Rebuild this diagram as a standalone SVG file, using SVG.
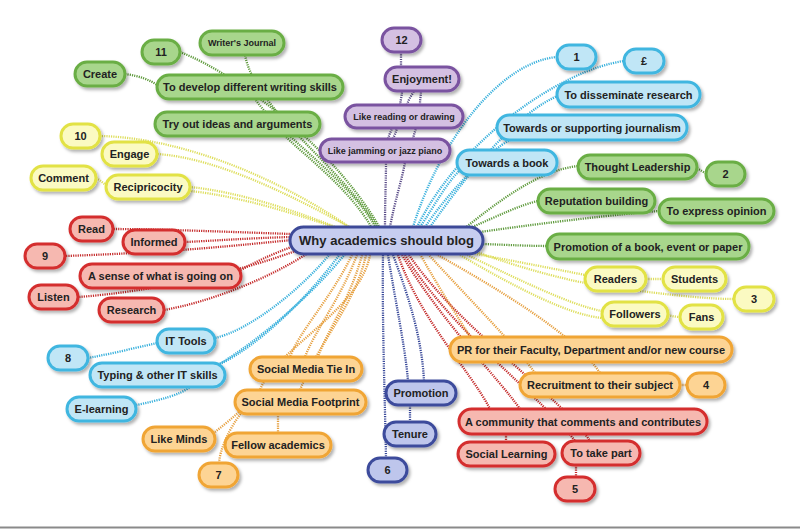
<svg xmlns="http://www.w3.org/2000/svg" width="800" height="529" viewBox="0 0 800 529">
<defs>
<filter id="sh" x="-20%" y="-40%" width="140%" height="190%">
<feDropShadow dx="2" dy="2.5" stdDeviation="1.5" flood-color="#000" flood-opacity="0.3"/>
</filter>
<style>
.node rect{stroke-width:3;filter:url(#sh)}
.node text{font-family:"Liberation Sans",Arial,sans-serif;font-weight:bold;font-size:11px;fill:#222;text-anchor:middle;dominant-baseline:central}
.node.sm text{font-size:9px}
.hub rect{fill:#c6cdf0;stroke:#3c4a98}
.hub text{font-size:13px}
.green rect{fill:#a8d68c;stroke:#6aae45}
.yellow rect{fill:#fbfac2;stroke:#e2e244}
.red rect{fill:#f6b8b0;stroke:#d42e2e}
.cyan rect{fill:#c0e6f6;stroke:#40b6e0}
.orange rect{fill:#fdd494;stroke:#f0a535}
.navy rect{fill:#bec6ec;stroke:#3c4c9c}
.purple rect{fill:#d4c0e2;stroke:#7a52a0}
#connectors path{fill:none;stroke-width:2.3;stroke-dasharray:1.2 1.1}
.cg{stroke:#5e9a3c}.cy{stroke:#dede5c}.cr{stroke:#c42a2a}.cc{stroke:#38b0dc}.co{stroke:#e6a040}.cn{stroke:#3a4a9a}.cp{stroke:#5a4c88}
</style>
</defs>
<rect width="800" height="529" fill="#fff"/>
<line x1="0" y1="527.5" x2="800" y2="527.5" stroke="#8a8a8a" stroke-width="2"/>
<g id="connectors">
<!-- green top-left -->
<path class="cg" d="M372,228 C350,190 310,160 285,136"/>
<path class="cg" d="M376,228 C350,180 280,135 255,99"/>
<path class="cg" d="M378,228 C345,170 255,110 245,55"/>
<path class="cg" d="M380,228 C335,150 240,75 180,52"/>
<path class="cg" d="M125,74 C140,76 150,80 157,85"/>
<!-- yellow left -->
<path class="cy" d="M352,229 C290,185 190,138 100,136"/>
<path class="cy" d="M355,230 C300,200 220,158 157,154"/>
<path class="cy" d="M345,231 C300,212 240,192 190,187"/>
<path class="cy" d="M348,232 C300,215 240,196 190,191"/>
<path class="cy" d="M96,178 C100,180 103,183 106,185"/>
<!-- red left -->
<path class="cr" d="M292,234 C230,232 160,229 113,229"/>
<path class="cr" d="M292,237 C250,238 210,241 185,242"/>
<path class="cr" d="M292,240 C240,245 180,252 65,256"/>
<path class="cr" d="M294,246 C270,255 255,262 241,270"/>
<path class="cr" d="M298,250 C240,272 150,292 78,297"/>
<path class="cr" d="M308,253 C270,278 210,302 164,310"/>
<!-- blue left -->
<path class="cc" d="M330,254 C300,290 250,330 215,338"/>
<path class="cc" d="M88,358 C110,354 135,348 157,343"/>
<path class="cc" d="M340,254 C310,295 260,345 220,364"/>
<path class="cc" d="M345,254 C300,310 230,360 215,366"/>
<path class="cc" d="M136,405 C160,400 180,395 190,387"/>
<!-- orange left -->
<path class="co" d="M352,255 C330,300 300,330 290,357"/>
<path class="co" d="M357,255 C340,300 315,330 305,357"/>
<path class="co" d="M362,255 C350,300 325,335 318,357"/>
<path class="co" d="M366,255 C355,305 320,340 300,390"/>
<path class="co" d="M370,255 C360,310 275,350 260,390"/>
<path class="co" d="M255,390 C250,405 230,420 215,432"/>
<path class="co" d="M278,414 C278,420 278,428 278,433"/>
<path class="co" d="M242,412 C228,430 220,450 219,463"/>
<!-- navy -->
<path class="cn" d="M383,255 C382,320 385,400 386,458"/>
<path class="cn" d="M388,255 C395,300 405,345 408,381"/>
<path class="cn" d="M393,255 C410,300 422,340 424,381"/>
<path class="cn" d="M410,405 C410,412 410,417 410,422"/>
<!-- red right -->
<path class="cr" d="M398,255 C420,320 470,370 490,409"/>
<path class="cr" d="M402,255 C440,320 500,380 520,409"/>
<path class="cr" d="M405,255 C450,330 545,400 575,441"/>
<path class="cr" d="M409,255 C460,330 560,395 590,441"/>
<path class="cr" d="M506,434 C506,437 506,440 506,442"/>
<path class="cr" d="M576,465 C576,469 576,473 576,477"/>
<!-- orange right -->
<path class="co" d="M420,254 C440,290 460,320 470,337"/>
<path class="co" d="M428,254 C470,300 515,345 535,373"/>
<path class="co" d="M436,254 C500,290 575,335 600,373"/>
<path class="co" d="M680,385 C683,385 685,385 687,385"/>
<!-- yellow right -->
<path class="cy" d="M470,253 C520,262 560,270 585,275"/>
<path class="cy" d="M474,251 C520,268 560,278 585,283"/>
<path class="cy" d="M465,254 C520,280 570,305 602,311"/>
<path class="cy" d="M460,255 C520,290 570,315 602,318"/>
<path class="cy" d="M646,279 C652,279 657,279 663,279"/>
<path class="cy" d="M640,291 C680,296 710,299 734,299"/>
<path class="cy" d="M668,315 C672,316 676,317 680,317"/>
<!-- green right -->
<path class="cg" d="M483,244 C510,245 530,246 547,246"/>
<path class="cg" d="M470,228 C500,215 520,205 538,201"/>
<path class="cg" d="M465,228 C500,200 540,170 578,166"/>
<path class="cg" d="M480,232 C550,222 620,214 659,211"/>
<path class="cg" d="M697,168 C700,170 703,172 706,173"/>
<!-- cyan right -->
<path class="cc" d="M420,227 C435,205 445,185 460,170"/>
<path class="cc" d="M425,227 C450,190 490,150 510,140"/>
<path class="cc" d="M430,227 C470,170 520,110 560,95"/>
<path class="cc" d="M413,227 C440,140 500,62 557,57"/>
<path class="cc" d="M417,227 C460,140 560,70 624,61"/>
<!-- purple -->
<path class="cp" d="M385,227 C385,200 386,180 386,162"/>
<path class="cp" d="M390,227 C395,200 402,180 405,162"/>
<path class="cp" d="M388,139 C390,132 391,132 392,128"/>
<path class="cp" d="M393,139 C395,134 396,132 397,128"/>
<path class="cp" d="M413,139 C414,134 415,132 416,128"/>
<path class="cp" d="M400,105 C401,98 402,95 402,91"/>
<path class="cp" d="M407,105 C409,98 412,95 414,91"/>
<path class="cp" d="M420,105 C420,98 421,95 421,91"/>
<path class="cp" d="M401,67 C401,62 401,57 401,52"/>
</g>

<g id="hub" class="node hub"><rect x="290" y="227" width="193" height="27" rx="13.5"/><text x="386.5" y="240.5">Why academics should blog</text></g>

<g id="n-11" class="node green"><rect x="142" y="40" width="38" height="24" rx="12"/><text x="161" y="52">11</text></g>
<g id="n-writers-journal" class="node green sm"><rect x="200" y="31" width="84" height="24" rx="12"/><text x="242" y="43">Writer's Journal</text></g>
<g id="n-create" class="node green"><rect x="75" y="62" width="50" height="24" rx="12"/><text x="100" y="74">Create</text></g>
<g id="n-develop" class="node green"><rect x="157" y="75" width="186" height="24" rx="12"/><text x="250" y="87">To develop different writing skills</text></g>
<g id="n-tryout" class="node green"><rect x="155" y="112" width="165" height="24" rx="12"/><text x="237.5" y="124">Try out ideas and arguments</text></g>

<g id="n-10" class="node yellow"><rect x="61" y="124" width="39" height="24" rx="12"/><text x="80.5" y="136">10</text></g>
<g id="n-engage" class="node yellow"><rect x="102" y="142" width="55" height="24" rx="12"/><text x="129.5" y="154">Engage</text></g>
<g id="n-comment" class="node yellow"><rect x="31" y="166" width="65" height="24" rx="12"/><text x="63.5" y="178">Comment</text></g>
<g id="n-recip" class="node yellow"><rect x="106" y="175" width="84" height="24" rx="12"/><text x="148" y="187">Recipricocity</text></g>

<g id="n-read" class="node red"><rect x="70" y="217" width="43" height="24" rx="12"/><text x="91.5" y="229">Read</text></g>
<g id="n-informed" class="node red"><rect x="123" y="230" width="62" height="24" rx="12"/><text x="154" y="242">Informed</text></g>
<g id="n-9" class="node red"><rect x="25" y="244" width="40" height="24" rx="12"/><text x="45" y="256">9</text></g>
<g id="n-sense" class="node red"><rect x="80" y="264" width="161" height="24" rx="12"/><text x="160.5" y="276">A sense of what is going on</text></g>
<g id="n-listen" class="node red"><rect x="29" y="285" width="49" height="24" rx="12"/><text x="53.5" y="297">Listen</text></g>
<g id="n-research" class="node red"><rect x="99" y="298" width="65" height="24" rx="12"/><text x="131.5" y="310">Research</text></g>

<g id="n-ittools" class="node cyan"><rect x="157" y="329" width="58" height="24" rx="12"/><text x="186" y="341">IT Tools</text></g>
<g id="n-8" class="node cyan"><rect x="48" y="346" width="40" height="24" rx="12"/><text x="68" y="358">8</text></g>
<g id="n-typing" class="node cyan"><rect x="90" y="363" width="135" height="24" rx="12"/><text x="157.5" y="375">Typing &amp; other IT skills</text></g>
<g id="n-elearning" class="node cyan"><rect x="67" y="397" width="69" height="24" rx="12"/><text x="101.5" y="409">E-learning</text></g>

<g id="n-tiein" class="node orange"><rect x="250" y="357" width="112" height="24" rx="12"/><text x="306" y="369">Social Media Tie In</text></g>
<g id="n-footprint" class="node orange"><rect x="235" y="390" width="131" height="24" rx="12"/><text x="300.5" y="402">Social Media Footprint</text></g>
<g id="n-likeminds" class="node orange"><rect x="143" y="427" width="72" height="24" rx="12"/><text x="179" y="439">Like Minds</text></g>
<g id="n-fellow" class="node orange"><rect x="225" y="433" width="106" height="24" rx="12"/><text x="278" y="445">Fellow academics</text></g>
<g id="n-7" class="node orange"><rect x="199" y="463" width="39" height="24" rx="12"/><text x="218.5" y="475">7</text></g>

<g id="n-promotion" class="node navy"><rect x="386" y="381" width="70" height="24" rx="12"/><text x="421" y="393">Promotion</text></g>
<g id="n-tenure" class="node navy"><rect x="384" y="422" width="52" height="24" rx="12"/><text x="410" y="434">Tenure</text></g>
<g id="n-6" class="node navy"><rect x="368" y="458" width="39" height="24" rx="12"/><text x="387.5" y="470">6</text></g>

<g id="n-community" class="node red"><rect x="459" y="409" width="248" height="25" rx="12.5"/><text x="583" y="421.5">A community that comments and contributes</text></g>
<g id="n-sociallearning" class="node red"><rect x="458" y="442" width="97" height="24" rx="12"/><text x="506.5" y="454">Social Learning</text></g>
<g id="n-takepart" class="node red"><rect x="562" y="441" width="78" height="24" rx="12"/><text x="601" y="453">To take part</text></g>
<g id="n-5" class="node red"><rect x="555" y="477" width="40" height="24" rx="12"/><text x="575" y="489">5</text></g>

<g id="n-pr" class="node orange"><rect x="450" y="337" width="282" height="25" rx="12.5"/><text x="591" y="349.5">PR for their Faculty, Department and/or new course</text></g>
<g id="n-recruitment" class="node orange"><rect x="520" y="373" width="160" height="24" rx="12"/><text x="600" y="385">Recruitment to their subject</text></g>
<g id="n-4" class="node orange"><rect x="687" y="373" width="38" height="24" rx="12"/><text x="706" y="385">4</text></g>

<g id="n-readers" class="node yellow"><rect x="585" y="267" width="61" height="24" rx="12"/><text x="615.5" y="279">Readers</text></g>
<g id="n-students" class="node yellow"><rect x="663" y="267" width="63" height="24" rx="12"/><text x="694.5" y="279">Students</text></g>
<g id="n-3" class="node yellow"><rect x="734" y="287" width="40" height="24" rx="12"/><text x="754" y="299">3</text></g>
<g id="n-followers" class="node yellow"><rect x="602" y="302" width="66" height="24" rx="12"/><text x="635" y="314">Followers</text></g>
<g id="n-fans" class="node yellow"><rect x="680" y="305" width="43" height="24" rx="12"/><text x="701.5" y="317">Fans</text></g>

<g id="n-thought" class="node green"><rect x="578" y="155" width="119" height="24" rx="12"/><text x="637.5" y="167">Thought Leadership</text></g>
<g id="n-2" class="node green"><rect x="706" y="162" width="39" height="24" rx="12"/><text x="725.5" y="174">2</text></g>
<g id="n-reputation" class="node green"><rect x="538" y="189" width="117" height="24" rx="12"/><text x="596.5" y="201">Reputation building</text></g>
<g id="n-express" class="node green"><rect x="659" y="199" width="115" height="24" rx="12"/><text x="716.5" y="211">To express opinion</text></g>
<g id="n-promobook" class="node green"><rect x="547" y="234" width="202" height="25" rx="12.5"/><text x="648" y="246.5">Promotion of a book, event or paper</text></g>

<g id="n-1" class="node cyan"><rect x="557" y="45" width="39" height="24" rx="12"/><text x="576.5" y="57">1</text></g>
<g id="n-pound" class="node cyan"><rect x="624" y="49" width="40" height="24" rx="12"/><text x="644" y="61">£</text></g>
<g id="n-disseminate" class="node cyan"><rect x="557" y="82" width="143" height="25" rx="12.5"/><text x="628.5" y="94.5">To disseminate research</text></g>
<g id="n-journalism" class="node cyan"><rect x="497" y="115" width="190" height="25" rx="12.5"/><text x="592" y="127.5">Towards or supporting journalism</text></g>
<g id="n-book" class="node cyan"><rect x="457" y="150" width="100" height="25" rx="12.5"/><text x="507" y="162.5">Towards a book</text></g>

<g id="n-12" class="node purple"><rect x="382" y="28" width="39" height="24" rx="12"/><text x="401.5" y="40">12</text></g>
<g id="n-enjoyment" class="node purple"><rect x="385" y="67" width="74" height="24" rx="12"/><text x="422" y="79">Enjoyment!</text></g>
<g id="n-likereading" class="node purple sm"><rect x="345" y="105" width="118" height="23" rx="11.5"/><text x="404" y="116.5">Like reading or drawing</text></g>
<g id="n-likejamming" class="node purple sm"><rect x="320" y="139" width="130" height="23" rx="11.5"/><text x="385" y="150.5">Like jamming or jazz piano</text></g>
</svg>
